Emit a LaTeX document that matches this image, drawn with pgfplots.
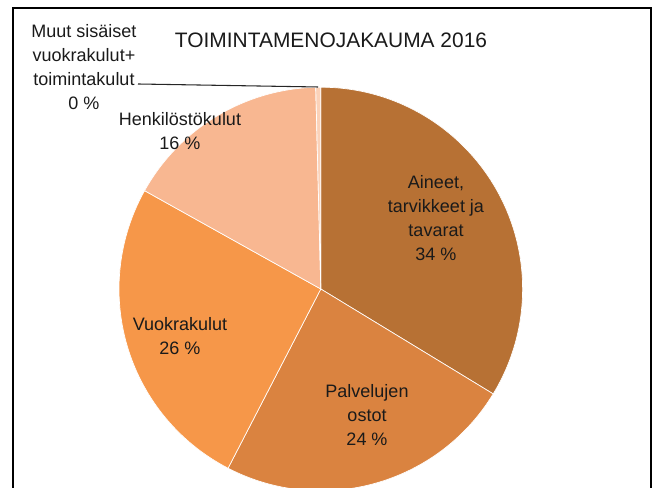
\documentclass[border=0pt]{standalone}
\usepackage{fontspec}
\setmainfont{Liberation Sans}
\usepackage{pgfplots}
\usepackage{pgfplotstable}
\pgfplotsset{compat=1.18}

\definecolor{pie0}{HTML}{B77134}
\definecolor{pie1}{HTML}{DA8340}
\definecolor{pie2}{HTML}{F69749}
\definecolor{pie3}{HTML}{F8B791}
\definecolor{pie4}{HTML}{FBD2B9}
\definecolor{txt}{HTML}{1A1A1A}

\tikzset{lbl/.style={font=\fontsize{13.5}{18}\selectfont, text=txt, align=center, inner sep=0pt}}

% share of each cost group, % (clockwise from 12 o'clock)
\pgfplotstableread{
value
33.7
23.9
25.5
16.5
0.4
}\piedata

\begin{document}
\begin{tikzpicture}
\clip (0,0) rectangle (495pt,366pt);
\begin{axis}[
  hide axis, clip=false,
  x=0.75pt, y=0.75pt,
  xmin=0, xmax=660, ymin=0, ymax=488,
  at={(0,0)}, anchor=origin,
]
  \pgfplotstablegetrowsof{\piedata}
  \pgfmathtruncatemacro\N{\pgfplotsretval-1}
  \gdef\angstart{90}
  \pgfplotsforeachungrouped \i in {0,...,\N}{
    \pgfplotstablegetelem{\i}{value}\of\piedata
    \pgfmathsetmacro\angend{\angstart-3.6*\pgfplotsretval}
    \edef\temp{\noexpand\fill[pie\i, draw=white, line width=0.5pt, line join=round]
      (axis cs:320.8,199) -- ++(\angstart:151.35pt)
      arc[start angle=\angstart, end angle=\angend, radius=151.35pt] -- cycle;}
    \temp
    \global\let\angstart\angend
  }
  \addplot[black!85, line width=0.8pt, no marks] coordinates {(138,404) (318,401)};

  \node[lbl, font=\fontsize{15.7}{19}\selectfont] at (axis cs:331,448) {TOIMINTAMENOJAKAUMA 2016};
  \node[lbl] at (axis cs:84,420.5) {Muut sisäiset\\vuokrakulut+\\toimintakulut\\0 \%};
  \node[lbl] at (axis cs:180,356.5) {Henkilöstökulut\\16 \%};
  \node[lbl] at (axis cs:436,269.5) {Aineet,\\tarvikkeet ja\\tavarat\\34 \%};
  \node[lbl] at (axis cs:180,152) {Vuokrakulut\\26 \%};
  \node[lbl] at (axis cs:367,73) {Palvelujen\\ostot\\24 \%};
\end{axis}
\draw[black, line width=1.9pt] (9.75pt,-10pt) -- (9.75pt,360pt) -- (488.25pt,360pt) -- (488.25pt,-10pt);
\end{tikzpicture}
\end{document}
